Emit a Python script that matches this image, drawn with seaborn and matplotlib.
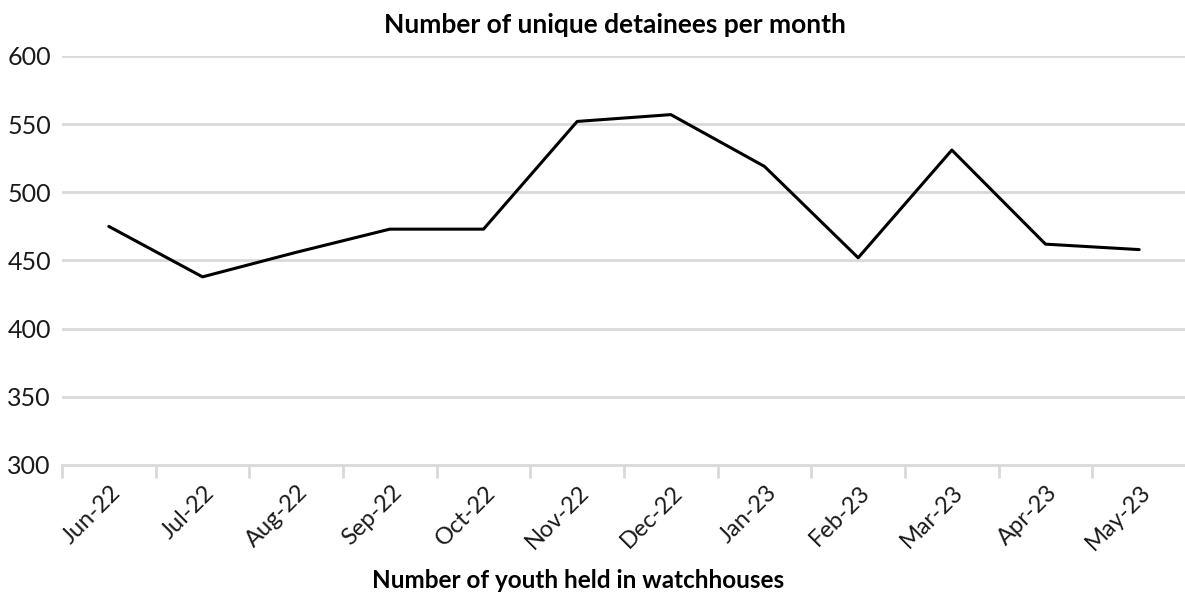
import matplotlib
matplotlib.use("Agg")
import matplotlib.pyplot as plt
import seaborn as sns
import pandas as pd

months = ["Jun-22", "Jul-22", "Aug-22", "Sep-22", "Oct-22", "Nov-22",
          "Dec-22", "Jan-23", "Feb-23", "Mar-23", "Apr-23", "May-23"]
detainees = [475, 438, 456, 473, 473, 552, 557, 519, 452, 531, 462, 458]
y_ticks = [300, 350, 400, 450, 500, 550, 600]

title = "Number of unique detainees per month"
x_title = "Number of youth held in watchhouses"

sns.set_theme(style="white")
plt.rcParams["font.family"] = ["Lato", "DejaVu Sans"]

df = pd.DataFrame({"month": months, "count": detainees, "pos": range(len(months))})

fig = plt.figure(figsize=(11.85, 6.01), dpi=100)
ax = fig.add_axes([62 / 1185, 1 - 465 / 601, (1186 - 62) / 1185, (465 - 56) / 601])

sns.lineplot(data=df, x="pos", y="count", ax=ax, color="black", linewidth=2.2)

grid_c = "#d9d9d9"
ax.set_xlim(-0.5, len(months) - 0.5)
ax.set_ylim(y_ticks[0], y_ticks[-1])
ax.set_yticks(y_ticks)
ax.set_yticklabels([str(v) for v in y_ticks], fontsize=18, color="#1a1a1a")
for v in y_ticks[1:]:
    ax.axhline(v, color=grid_c, linewidth=2, zorder=0)

# category boundary ticks below the axis
ax.set_xticks([i - 0.5 for i in range(len(months))])
ax.set_xticklabels([])
ax.set_xticks(list(range(len(months))), minor=True)
ax.set_xticklabels(months, minor=True, rotation=45, ha="right",
                   rotation_mode="anchor", fontsize=17, color="#1a1a1a")
ax.tick_params(axis="x", which="major", bottom=True, length=9, width=2,
               color=grid_c, direction="out")
ax.tick_params(axis="x", which="minor", bottom=True, length=0, pad=12)
ax.tick_params(axis="y", left=False, length=0, pad=8)
for lbl in ax.get_xticklabels(minor=True):
    lbl.set_transform(lbl.get_transform() + matplotlib.transforms.ScaledTranslation(0.01, 0, fig.dpi_scale_trans))

for side in ["top", "right", "left"]:
    ax.spines[side].set_visible(False)
ax.spines["bottom"].set_color(grid_c)
ax.spines["bottom"].set_linewidth(2)

ax.set_xlabel("")
ax.set_ylabel("")

fig.text(615 / 1185, 1 - 25 / 601, title, ha="center", va="center",
         fontsize=19, fontweight="bold", color="black")
fig.text(578 / 1185, 1 - 580 / 601, x_title, ha="center", va="center",
         fontsize=17.5, fontweight="bold", color="black")

fig.savefig("out.png", dpi=100, facecolor="white")
